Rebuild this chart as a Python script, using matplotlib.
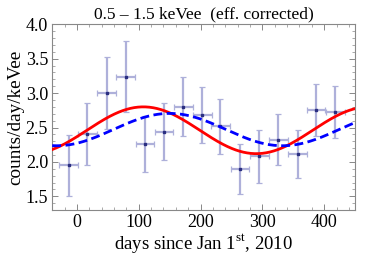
import numpy as np
import matplotlib
matplotlib.use("Agg")
import matplotlib.pyplot as plt
from matplotlib.ticker import MultipleLocator

plt.rcParams['font.family'] = ['Liberation Serif', 'DejaVu Serif']
plt.rcParams['mathtext.fontset'] = 'custom'
plt.rcParams['mathtext.rm'] = 'Liberation Serif'

# data (monthly bins)
days = [-13.5, 17, 48, 79, 110, 141, 172, 203, 232, 264, 295, 326, 357, 387, 418]
rate = [1.95, 2.40, 3.00, 3.24, 2.26, 2.44, 2.80, 2.68, 2.52, 1.90, 2.08, 2.32, 2.11, 2.75, 2.73]
rate_err = [0.44, 0.45, 0.52, 0.51, 0.41, 0.41, 0.43, 0.41, 0.40, 0.36, 0.38, 0.37, 0.35, 0.38, 0.38]
day_err = [15] * len(days)

# fit curves: mean, amplitude, phase (day of max), period
red_fit = dict(mean=2.46, amp=0.34, phase=107.5, period=365.25)
blue_fit = dict(mean=2.47, amp=0.235, phase=150.0, period=365.25)

x_ticks = [0, 100, 200, 300, 400]
y_ticks = [1.5, 2.0, 2.5, 3.0, 3.5, 4.0]

fig = plt.figure(figsize=(3.81, 2.61), dpi=100)
ax = fig.add_axes([0.137, 0.195, 0.795, 0.712])

eb = ax.errorbar(days, rate, yerr=rate_err, xerr=day_err, fmt='s', ms=2.0,
                 color='#2a2e80', ecolor='#aeb0da', elinewidth=1.6,
                 capsize=2.0, capthick=0.9, zorder=2)
for cap in eb[1]:
    cap.set_color('#6a6eb0')

xs = np.linspace(-40, 450, 400)
for f, st in ((red_fit, dict(color='#ff0000', lw=2.0, ls='-')),
              (blue_fit, dict(color='#0000ff', lw=2.0, ls=(0, (3.2, 1.6))))):
    ys = f['mean'] + f['amp'] * np.cos(2 * np.pi * (xs - f['phase']) / f['period'])
    ax.plot(xs, ys, zorder=3, **st)

ax.set_xlim(-40, 450)
ax.set_ylim(1.3, 4.0)
ax.set_xticks(x_ticks)
ax.set_yticks(y_ticks)
ax.set_yticklabels([f"{v:.1f}" for v in y_ticks])
ax.xaxis.set_minor_locator(MultipleLocator(20))
ax.yaxis.set_minor_locator(MultipleLocator(0.1))
ax.tick_params(which='both', direction='in', top=True, right=True, color='#888888',
               labelsize=13, pad=3)
ax.tick_params(which='major', length=4, width=0.7)
ax.tick_params(which='minor', length=2, width=0.5)
for s in ax.spines.values():
    s.set_color('#888888')
    s.set_linewidth(0.8)

ax.set_xlabel('days since Jan 1$^{\\mathrm{st}}$, 2010', fontsize=13.5, labelpad=1)
ax.set_ylabel('counts/day/keVee', fontsize=13.8, labelpad=1)
ax.set_title('0.5 \u2013 1.5 keVee  (eff. corrected)', fontsize=12.5, pad=4)

fig.savefig('out.png', dpi=100)
